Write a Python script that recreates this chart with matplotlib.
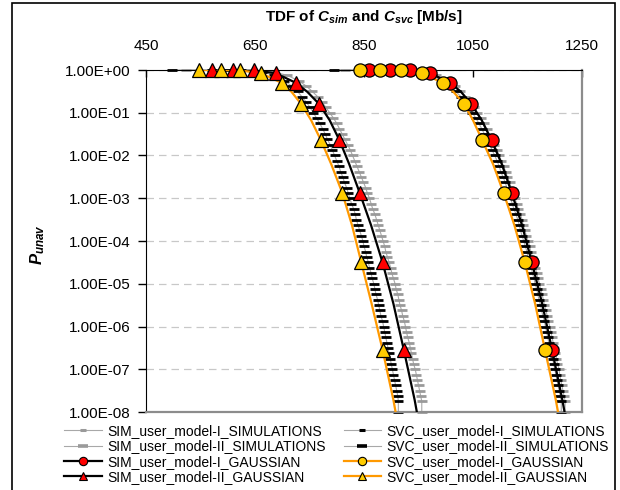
import numpy as np
import matplotlib
matplotlib.use("Agg")
import matplotlib.pyplot as plt
from matplotlib.lines import Line2D
from matplotlib.patches import Rectangle
from matplotlib.ticker import FixedLocator, FuncFormatter, NullLocator

plt.rcParams['font.family'] = ['Liberation Sans', 'DejaVu Sans']
plt.rcParams['mathtext.fontset'] = 'custom'
plt.rcParams['mathtext.rm'] = 'Liberation Sans'
plt.rcParams['mathtext.it'] = 'Liberation Sans:italic'
plt.rcParams['mathtext.bf'] = 'Liberation Sans:bold'
plt.rcParams['mathtext.bfit'] = 'Liberation Sans:bold:italic'

# --- simulation curves (empirical TDF), read off the picture ---
# probability levels: a few points near 1, then log10 levels, then the floor
sim_p_top = [1.0, 0.9999, 0.999, 0.99, 0.95, 0.9]
sim_logp = [-0.125, -0.25, -0.375, -0.5, -0.625, -0.75, -0.875, -1.0, -1.125, -1.25,
            -1.375, -1.5, -1.625, -1.75, -1.875, -2.0, -2.125, -2.25, -2.375, -2.5,
            -2.625, -2.75, -2.875, -3.0, -3.125, -3.25, -3.375, -3.5, -3.625, -3.75,
            -3.875, -4.0, -4.125, -4.25, -4.375, -4.5, -4.625, -4.75, -4.875, -5.0,
            -5.125, -5.25, -5.375, -5.5, -5.625, -5.75, -5.875, -6.0, -6.125, -6.25,
            -6.375, -6.5, -6.625, -6.75, -6.875, -7.0, -7.125, -7.25, -7.375, -7.5,
            -7.625, -7.75]
sim_p_end = 1e-8

svc2_sim_x = [498, 572, 596, 624, 649, 663,
              685, 704, 717, 728, 736, 744, 751, 757, 763, 769,
              774, 779, 783, 788, 792, 796, 800, 804, 807, 811,
              814, 818, 821, 824, 827, 831, 834, 836, 839, 842,
              845, 848, 850, 853, 855, 858, 860, 863, 865, 868,
              870, 872, 875, 877, 879, 881, 884, 886, 888, 890,
              892, 894, 896, 898, 900, 902, 904, 906, 908, 910,
              912, 913, 913]
sim2_sim_x = [524, 587, 612, 643, 670, 685,
              709, 730, 744, 755, 765, 773, 780, 787, 794, 800,
              805, 810, 815, 820, 825, 829, 833, 837, 841, 845,
              849, 853, 856, 860, 863, 866, 870, 873, 876, 879,
              882, 885, 888, 890, 893, 896, 899, 901, 904, 907,
              909, 912, 914, 916, 919, 921, 924, 926, 928, 930,
              933, 935, 937, 939, 941, 944, 946, 948, 950, 952,
              954, 956, 956]
svc1_sim_x = [795, 857, 881, 910, 937, 951,
              974, 994, 1008, 1018, 1028, 1036, 1043, 1049, 1055, 1061,
              1066, 1071, 1076, 1081, 1085, 1090, 1094, 1098, 1101, 1105,
              1109, 1112, 1116, 1119, 1122, 1125, 1129, 1132, 1135, 1137,
              1140, 1143, 1146, 1149, 1151, 1154, 1157, 1159, 1162, 1164,
              1167, 1169, 1171, 1174, 1176, 1178, 1181, 1183, 1185, 1187,
              1189, 1192, 1194, 1196, 1198, 1200, 1202, 1204, 1206, 1208,
              1210, 1212, 1212]
sim1_sim_x = [815, 867, 891, 920, 946, 960,
              983, 1003, 1017, 1027, 1036, 1044, 1051, 1058, 1064, 1070,
              1075, 1080, 1085, 1089, 1094, 1098, 1102, 1106, 1110, 1113,
              1117, 1120, 1124, 1127, 1130, 1133, 1137, 1140, 1142, 1145,
              1148, 1151, 1154, 1156, 1159, 1162, 1164, 1167, 1169, 1172,
              1174, 1177, 1179, 1181, 1184, 1186, 1188, 1191, 1193, 1195,
              1197, 1199, 1201, 1203, 1205, 1208, 1209, 1211, 1213, 1215,
              1217, 1219, 1219]

# --- gaussian curves ---
gauss_p = [0.99997, 0.99865, 0.9772, 0.8413, 0.5, 0.3085, 0.1587, 0.0668, 0.02275,
           0.00621, 1.35e-3, 2.33e-4, 3.17e-5, 3.4e-6, 2.87e-7, 1.9e-8, 3.2e-9]
gauss_marks = [0, 1, 2, 3, 4, 6, 8, 10, 12, 14]   # points that carry a marker
svc2_gauss_x = [548, 587, 622, 661, 699, 717, 735, 753, 771, 790, 810, 828, 845, 864, 884, 904, 915]
sim2_gauss_x = [572, 609, 648, 688, 725, 746, 768, 787, 805, 823, 842, 863, 884, 904, 923, 943, 954]
svc1_gauss_x = [842, 880, 917, 956, 995, 1014, 1034, 1050, 1067, 1087, 1106, 1126, 1145, 1164, 1182, 1202, 1213]
sim1_gauss_x = [860, 897, 934, 971, 1008, 1028, 1047, 1066, 1084, 1103, 1121, 1140, 1158, 1177, 1195, 1214, 1225]

x_ticks = [450, 650, 850, 1050, 1250]
y_ticks = [1e-8, 1e-7, 1e-6, 1e-5, 1e-4, 1e-3, 1e-2, 1e-1, 1e0]

labels = ["SIM_user_model-I_SIMULATIONS", "SIM_user_model-II_SIMULATIONS",
          "SIM_user_model-I_GAUSSIAN", "SIM_user_model-II_GAUSSIAN",
          "SVC_user_model-I_SIMULATIONS", "SVC_user_model-II_SIMULATIONS",
          "SVC_user_model-I_GAUSSIAN", "SVC_user_model-II_GAUSSIAN"]

RED = "#ff0000"
GOLD = "#ffcc00"
ORANGE = "#ff9900"
GREY = "#9a9a9a"
LINEGREY = "#a8a8a8"

sim_p = np.array(sim_p_top + [10 ** l for l in sim_logp] + [sim_p_end])
gp = np.array(gauss_p)
gm = np.array(gauss_marks)

fig = plt.figure(figsize=(6.2, 4.9), dpi=100)
ax = fig.add_axes([146 / 620, 1 - 412 / 490, 436 / 620, 342 / 490])

# simulations
for xs, mc in [(sim1_sim_x, GREY), (svc1_sim_x, "black"), (sim2_sim_x, GREY), (svc2_sim_x, "black")]:
    ax.plot(xs, sim_p, color=LINEGREY, lw=0.8, marker="_", ms=6.5, mew=2.0,
            mec=mc, clip_on=False, zorder=2)

# gaussian lines (clipped) and their markers (not clipped)
for xs, lc, mfc, mk, zo in [(sim1_gauss_x, "black", RED, "o", 4), (svc1_gauss_x, ORANGE, GOLD, "o", 5),
                            (sim2_gauss_x, "black", RED, "^", 4), (svc2_gauss_x, ORANGE, GOLD, "^", 5)]:
    xs = np.array(xs)
    ax.plot(xs, gp, color=lc, lw=1.6, zorder=3)
    ax.plot(xs[gm], gp[gm], ls="none", marker=mk, ms=10.5 if mk == "^" else 9.5,
            mfc=mfc, mec="black", mew=0.9, clip_on=False, zorder=zo)

ax.set_yscale("log")
ax.set_xlim(450, 1250)
ax.set_ylim(1e-8, 1)

ax.xaxis.tick_top()
ax.xaxis.set_major_locator(FixedLocator(x_ticks))
ax.tick_params(axis="x", direction="in", length=5, width=1, pad=12, labelsize=11)
ax.yaxis.set_major_locator(FixedLocator(y_ticks))
ax.yaxis.set_minor_locator(NullLocator())
ax.yaxis.set_major_formatter(FuncFormatter(lambda v, pos: f"{v:.2E}"))
ax.tick_params(axis="y", direction="out", length=6, width=1, pad=5, labelsize=11)

ax.grid(axis="y", color="#c8c8c8", ls=(0, (6, 4)), lw=0.9)
ax.set_axisbelow(True)
ax.spines["left"].set_color("black")
ax.spines["top"].set_color("black")
ax.spines["right"].set_color("#8c8c8c")
ax.spines["bottom"].set_color("#8c8c8c")
ax.spines["right"].set_linewidth(1.6)
ax.spines["bottom"].set_linewidth(1.6)

fig.text(364 / 620, 1 - 17 / 490,
         r"TDF of $\mathbfit{C}_{\mathbfit{sim}}$ and $\mathbfit{C}_{\mathbfit{svc}}$ [Mb/s]",
         ha="center", va="center", fontsize=11, fontweight="bold")
fig.text(38 / 620, 1 - 245 / 490, r"$\mathbfit{P}_{\mathbfit{unav}}$",
         rotation=90, ha="center", va="center", fontsize=12)

handles = [
    Line2D([], [], color=LINEGREY, lw=0.8, marker="_", ms=5, mew=2.2, mec=GREY),
    Line2D([], [], color=LINEGREY, lw=0.8, marker="_", ms=7, mew=2.6, mec=GREY),
    Line2D([], [], color="black", lw=1.6, marker="o", ms=6, mfc=RED, mec="black", mew=0.8),
    Line2D([], [], color="black", lw=1.6, marker="^", ms=6, mfc=RED, mec="black", mew=0.8),
    Line2D([], [], color=LINEGREY, lw=0.8, marker="_", ms=5, mew=2.2, mec="black"),
    Line2D([], [], color=LINEGREY, lw=0.8, marker="_", ms=7, mew=2.6, mec="black"),
    Line2D([], [], color=ORANGE, lw=1.6, marker="o", ms=6, mfc=GOLD, mec="black", mew=0.8),
    Line2D([], [], color=ORANGE, lw=1.6, marker="^", ms=6, mfc=GOLD, mec="black", mew=0.8),
]
fig.legend(handles, labels, ncol=2, loc="upper left", bbox_to_anchor=(64 / 620, 1 - 424 / 490),
           frameon=False, fontsize=10, handlelength=2.7, handletextpad=0.4,
           columnspacing=1.3, labelspacing=0.1, borderpad=0, borderaxespad=0)

fig.patches.append(Rectangle((12 / 620, -0.01), 603 / 620, 1.01 - 3 / 490, transform=fig.transFigure,
                             fill=False, edgecolor="black", lw=1.2))

fig.savefig("out.png", dpi=100)
